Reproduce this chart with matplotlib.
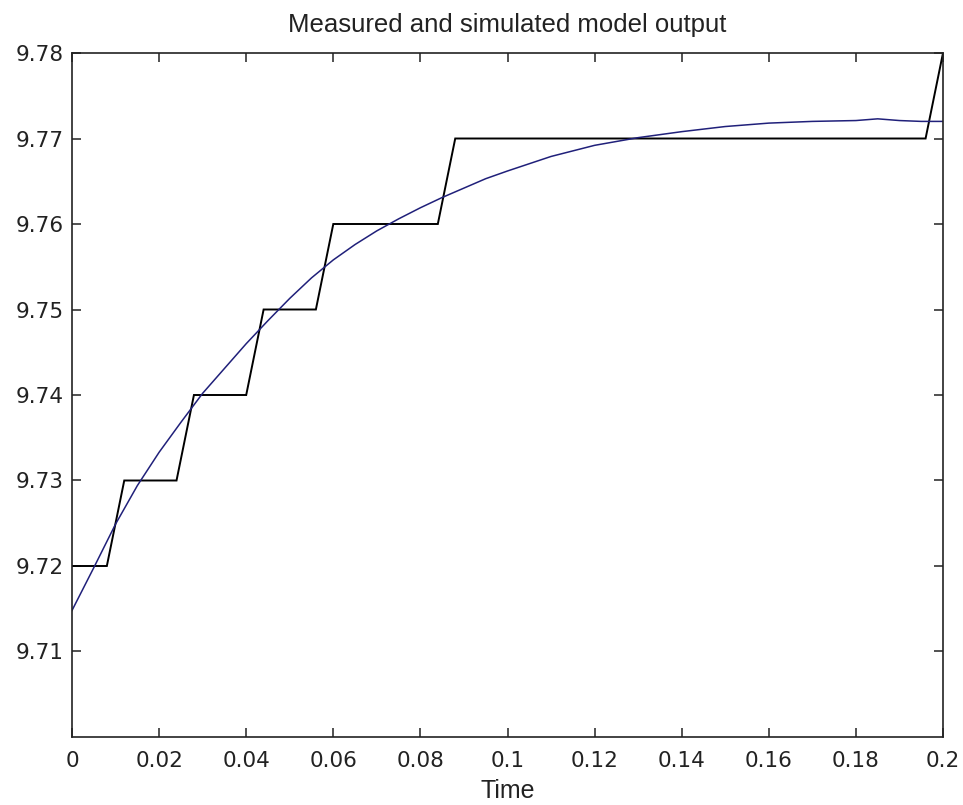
import matplotlib
matplotlib.use("Agg")
import matplotlib.pyplot as plt

# Measured output (step-like samples)
t_meas = [0.0, 0.008, 0.012, 0.024, 0.028, 0.040, 0.044, 0.056, 0.060, 0.084, 0.088, 0.196, 0.200]
y_meas = [9.72, 9.72, 9.73, 9.73, 9.74, 9.74, 9.75, 9.75, 9.76, 9.76, 9.77, 9.77, 9.78]

# Simulated model output
t_sim = [0.000, 0.005, 0.010, 0.015, 0.020, 0.025, 0.030, 0.035, 0.040, 0.045,
         0.050, 0.055, 0.060, 0.065, 0.070, 0.075, 0.080, 0.085, 0.090, 0.095,
         0.100, 0.110, 0.120, 0.130, 0.140, 0.150, 0.160, 0.170, 0.180, 0.185,
         0.190, 0.195, 0.200]
y_sim = [9.7148, 9.7198, 9.7249, 9.7294, 9.7333, 9.7368, 9.7402, 9.7431, 9.7460, 9.7487,
         9.7513, 9.7537, 9.7558, 9.7576, 9.7592, 9.7606, 9.7619, 9.7631, 9.7642, 9.7653,
         9.7662, 9.7679, 9.7692, 9.7701, 9.7708, 9.7714, 9.7718, 9.7720, 9.7721, 9.7723,
         9.7721, 9.7720, 9.7720]

x_ticks = [0, 0.02, 0.04, 0.06, 0.08, 0.1, 0.12, 0.14, 0.16, 0.18, 0.2]
x_ticklabels = ["0", "0.02", "0.04", "0.06", "0.08", "0.1", "0.12", "0.14", "0.16", "0.18", "0.2"]
y_ticks = [9.71, 9.72, 9.73, 9.74, 9.75, 9.76, 9.77, 9.78]
y_ticklabels = ["9.71", "9.72", "9.73", "9.74", "9.75", "9.76", "9.77", "9.78"]

W, H = 963, 805
fig = plt.figure(figsize=(W / 100, H / 100), dpi=100)
ax = fig.add_axes([72 / W, (H - 737) / H, (943 - 72) / W, (737 - 53) / H])

ax.plot(t_meas, y_meas, color="black", lw=1.4, solid_joinstyle="miter")
ax.plot(t_sim, y_sim, color="#20207a", lw=1.1)

ax.set_xlim(0, 0.2)
ax.set_ylim(9.70, 9.78)
ax.set_xticks(x_ticks)
ax.set_xticklabels(x_ticklabels)
ax.set_yticks(y_ticks)
ax.set_yticklabels(y_ticklabels)

for s in ax.spines.values():
    s.set_linewidth(1.2)
    s.set_color("#222222")

ax.tick_params(axis="both", which="major", direction="in", length=6.5, width=1.1,
               top=True, right=True, colors="#222222", labelcolor="#222222",
               labelsize=15.5)
ax.tick_params(axis="x", pad=10)
ax.tick_params(axis="y", pad=6)
for lab in ax.get_xticklabels() + ax.get_yticklabels():
    lab.set_family("DejaVu Sans")

ax.set_title("Measured and simulated model output", fontsize=18.5,
             family="Liberation Sans", color="#222222", pad=15)
ax.set_xlabel("Time", fontsize=18, family="Liberation Sans", color="#222222",
              va="baseline")
ax.xaxis.set_label_coords(0.5, -(798 - 737) / (737 - 53))

fig.savefig("out.png", dpi=100)
